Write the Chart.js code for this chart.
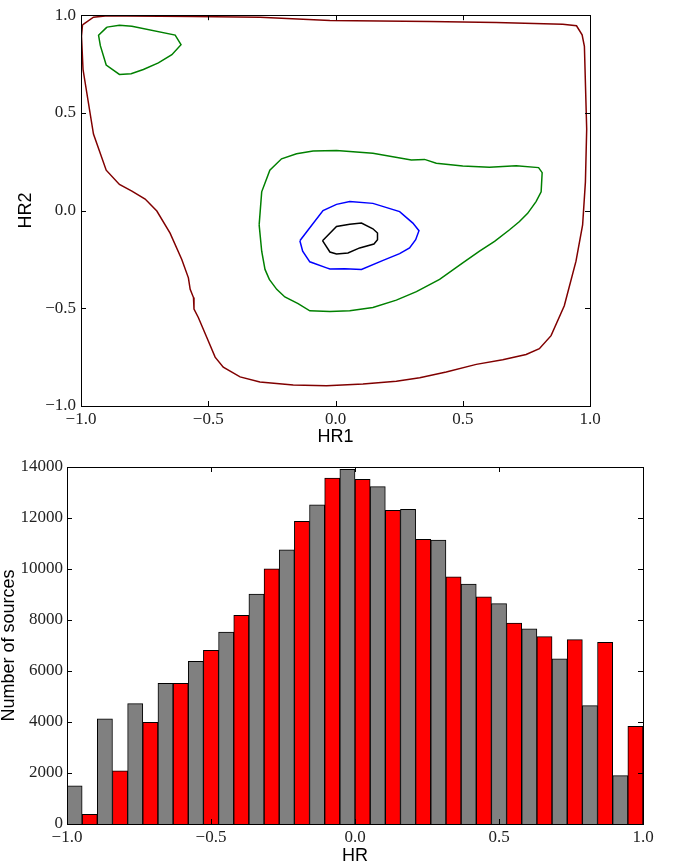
<!DOCTYPE html>
<html lang="en">
<head>
<meta charset="UTF-8">
<title>HR1 / HR2 contours and HR histogram</title>
<script src="https://cdn.jsdelivr.net/npm/chart.js"></script>
<style>
  body { margin: 0; background: #fff; }
  canvas { position: absolute; left: 0; }
  #contourChart { top: 0; }
  #histChart { top: 450px; }
</style>
</head>
<body>
<canvas id="contourChart" width="673" height="450"></canvas>
<canvas id="histChart" width="673" height="415"></canvas>
<script>
// contour levels, points as [HR1, HR2]
const outerLevel = [
  [-0.994,0.951],[-0.998,0.892],[-0.992,0.722],[-0.951,0.392],[-0.901,0.207],[-0.849,0.134],
  [-0.800,0.100],[-0.748,0.059],[-0.702,-0.002],[-0.650,-0.115],[-0.604,-0.250],[-0.578,-0.344],
  [-0.571,-0.403],[-0.558,-0.445],[-0.556,-0.504],[-0.539,-0.547],[-0.506,-0.648],[-0.473,-0.750],
  [-0.441,-0.801],[-0.375,-0.851],[-0.297,-0.877],[-0.166,-0.893],[-0.035,-0.897],[0.108,-0.888],
  [0.239,-0.873],[0.331,-0.855],[0.435,-0.826],[0.553,-0.787],[0.657,-0.763],[0.749,-0.736],
  [0.801,-0.707],[0.847,-0.640],[0.899,-0.487],[0.945,-0.259],[0.971,-0.073],[0.982,0.147],
  [0.987,0.418],[0.978,0.841],[0.969,0.900],[0.947,0.946],[0.893,0.954],[0.631,0.963],
  [0.370,0.968],[-0.022,0.973],[-0.297,0.990],[-0.560,0.993],[-0.820,0.996],[-0.905,0.996],
  [-0.951,0.990],[-0.994,0.951]
];
const cornerLevel = [
  [-0.898,0.939],[-0.849,0.949],[-0.800,0.943],[-0.630,0.898],[-0.607,0.849],[-0.643,0.798],
  [-0.696,0.756],[-0.755,0.722],[-0.803,0.700],[-0.849,0.697],[-0.901,0.745],[-0.924,0.844],
  [-0.931,0.897],[-0.898,0.939]
];
const midLevel = [
  [-0.300,-0.073],[-0.290,0.096],[-0.258,0.207],[-0.212,0.265],[-0.153,0.291],[-0.088,0.305],
  [0.004,0.308],[0.095,0.299],[0.147,0.294],[0.298,0.259],[0.350,0.262],[0.396,0.242],
  [0.500,0.228],[0.605,0.222],[0.710,0.230],[0.798,0.220],[0.812,0.194],[0.808,0.096],
  [0.788,0.046],[0.755,-0.014],[0.723,-0.056],[0.684,-0.098],[0.625,-0.157],[0.566,-0.208],
  [0.500,-0.268],[0.409,-0.352],[0.318,-0.415],[0.239,-0.458],[0.147,-0.496],[0.056,-0.513],
  [-0.022,-0.516],[-0.101,-0.513],[-0.147,-0.476],[-0.199,-0.442],[-0.231,-0.403],[-0.260,-0.352],
  [-0.277,-0.301],[-0.290,-0.208],[-0.300,-0.073]
];
const innerLevel = [
  [-0.140,-0.154],[-0.107,-0.098],[-0.049,0.000],[0.004,0.032],[0.056,0.046],[0.147,0.037],
  [0.252,-0.005],[0.304,-0.064],[0.328,-0.103],[0.315,-0.149],[0.291,-0.191],[0.252,-0.220],
  [0.187,-0.255],[0.102,-0.301],[0.036,-0.298],[-0.022,-0.299],[-0.035,-0.293],[-0.101,-0.262],
  [-0.129,-0.208],[-0.140,-0.154]
];
const peakLevel = [
  [-0.051,-0.154],[0.004,-0.081],[0.056,-0.070],[0.102,-0.064],[0.147,-0.093],[0.165,-0.115],
  [0.165,-0.149],[0.151,-0.171],[0.095,-0.191],[0.049,-0.217],[0.004,-0.222],[-0.022,-0.212],
  [-0.051,-0.154]
];

// histogram counts, 19 bins each, bars interleaved gray / red
const grayCounts = [1500,4120,4720,5520,6380,7530,9020,10750,12520,13910,13230,12340,11130,9410,8640,7650,6480,4640,1900];
const redCounts  = [380,2090,3990,5520,6810,8180,10010,11870,13570,13520,12300,11160,9690,8910,7880,7350,7230,7120,3830];
const hrTicks = [-1, -0.5, 0, 0.5, 1];
const countTicks = [0,2000,4000,6000,8000,10000,12000,14000];

const serif = "'Liberation Serif', 'DejaVu Serif', serif";
const sans = "'Liberation Sans', Arial, sans-serif";

function fmtHR(v) {
  const s = Math.abs(v) < 1e-9 ? '0.0' : v.toFixed(1);
  return s.replace('-', '\u2212');
}
function pts(arr) { return arr.map(p => ({x: p[0], y: p[1]})); }

// box round the plot with inward ticks on all four sides
const framePlugin = {
  id: 'frame',
  afterDraw(chart) {
    const {ctx, chartArea: a, scales} = chart;
    ctx.save();
    ctx.strokeStyle = '#000';
    ctx.lineWidth = 1;
    ctx.strokeRect(Math.round(a.left) + 0.5, Math.round(a.top) + 0.5,
                   Math.round(a.right - a.left), Math.round(a.bottom - a.top));
    ctx.beginPath();
    scales.x.ticks.forEach(t => {
      const px = Math.round(scales.x.getPixelForValue(t.value)) + 0.5;
      ctx.moveTo(px, a.bottom); ctx.lineTo(px, a.bottom - 5);
      ctx.moveTo(px, a.top); ctx.lineTo(px, a.top + 5);
    });
    scales.y.ticks.forEach(t => {
      const py = Math.round(scales.y.getPixelForValue(t.value)) + 0.5;
      ctx.moveTo(a.left, py); ctx.lineTo(a.left + 5, py);
      ctx.moveTo(a.right, py); ctx.lineTo(a.right - 5, py);
    });
    ctx.stroke();
    ctx.restore();
  }
};

function line(data, color) {
  return {
    data: pts(data), showLine: true, borderColor: color, borderWidth: 1.5,
    pointRadius: 0, tension: 0, fill: false
  };
}

const noGrid = { display: false, drawTicks: false, tickLength: 0 };

new Chart(document.getElementById('contourChart'), {
  type: 'scatter',
  data: {
    datasets: [
      line(outerLevel, '#800000'),
      line(cornerLevel, '#008000'),
      line(midLevel, '#008000'),
      line(innerLevel, '#0000ff'),
      line(peakLevel, '#000000')
    ]
  },
  options: {
    responsive: false, animation: false, devicePixelRatio: 1,
    layout: { padding: { top: 12, right: 83, left: 0, bottom: 0 } },
    plugins: { legend: { display: false }, tooltip: { enabled: false } },
    scales: {
      x: {
        type: 'linear', min: -1, max: 1,
        afterBuildTicks: s => { s.ticks = hrTicks.map(v => ({value: v})); },
        afterFit: s => { s.height = 44; },
        grid: noGrid, border: { display: false },
        ticks: { callback: fmtHR, padding: 3, maxRotation: 0, color: '#222', font: { family: serif, size: 17 } },
        title: { display: true, text: 'HR1', color: '#000', padding: { top: 0, bottom: 2 }, font: { family: sans, size: 18 } }
      },
      y: {
        type: 'linear', min: -1, max: 1,
        afterBuildTicks: s => { s.ticks = hrTicks.map(v => ({value: v})); },
        afterFit: s => { s.width = 81; },
        grid: noGrid, border: { display: false },
        ticks: { callback: fmtHR, padding: 5, color: '#222', font: { family: serif, size: 17 } },
        title: { display: true, text: 'HR2', color: '#000', padding: { top: 15, bottom: 0 }, font: { family: sans, size: 18 } }
      }
    }
  },
  plugins: [framePlugin]
});

const barW = 2 / (grayCounts.length + redCounts.length);
const grayBars = grayCounts.map((c, i) => ({x: -1 + (2 * i + 0.5) * barW, y: c}));
const redBars = redCounts.map((c, i) => ({x: -1 + (2 * i + 1.5) * barW, y: c}));

new Chart(document.getElementById('histChart'), {
  type: 'bar',
  data: {
    datasets: [
      { data: grayBars, backgroundColor: '#808080', borderColor: '#000', borderWidth: 1,
        grouped: false, barPercentage: 1, categoryPercentage: 1 },
      { data: redBars, backgroundColor: '#ff0000', borderColor: '#000', borderWidth: 1,
        grouped: false, barPercentage: 1, categoryPercentage: 1 }
    ]
  },
  options: {
    responsive: false, animation: false, devicePixelRatio: 1,
    layout: { padding: { top: 17, right: 30, left: 0, bottom: 0 } },
    plugins: { legend: { display: false }, tooltip: { enabled: false } },
    scales: {
      x: {
        type: 'linear', min: -1, max: 1, offset: false,
        afterBuildTicks: s => { s.ticks = hrTicks.map(v => ({value: v})); },
        afterFit: s => { s.height = 41; },
        grid: Object.assign({ offset: false }, noGrid), border: { display: false },
        ticks: { callback: fmtHR, padding: 3, maxRotation: 0, color: '#222', font: { family: serif, size: 17 } },
        title: { display: true, text: 'HR', color: '#000', padding: { top: 0, bottom: 0 }, font: { family: sans, size: 18, lineHeight: 1 } }
      },
      y: {
        type: 'linear', min: 0, max: 14000,
        afterBuildTicks: s => { s.ticks = countTicks.map(v => ({value: v})); },
        afterFit: s => { s.width = 67; },
        grid: noGrid, border: { display: false },
        ticks: { callback: v => String(v), padding: 4, color: '#222', font: { family: serif, size: 17 } },
        title: { display: true, text: 'Number of sources', color: '#000', padding: { top: 0, bottom: 0 }, font: { family: sans, size: 18, lineHeight: 1 } }
      }
    }
  },
  plugins: [framePlugin]
});
</script>
</body>
</html>
